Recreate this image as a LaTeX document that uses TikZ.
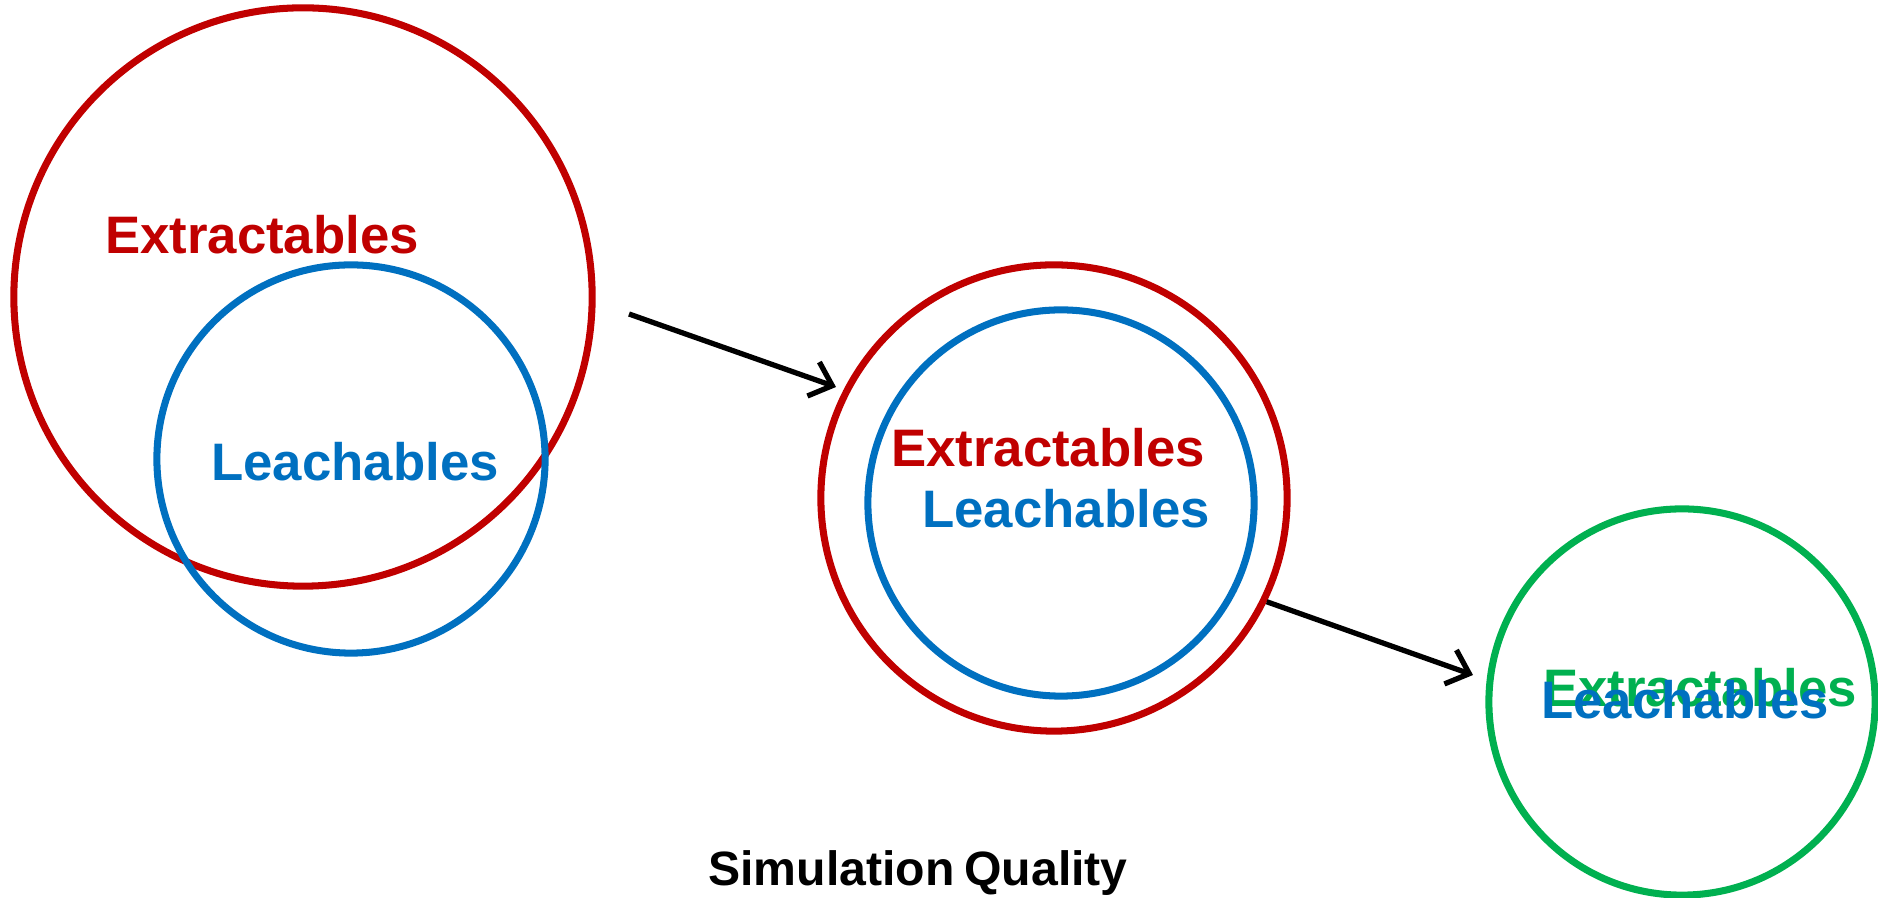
\documentclass[tikz,border=0pt]{standalone}
\usepackage{fontspec}
\setmainfont{Liberation Sans}
\usetikzlibrary{arrows.meta,positioning}
\definecolor{extred}{HTML}{C00000}
\definecolor{leachblue}{HTML}{0070C0}
\definecolor{simgreen}{HTML}{00B050}
\tikzset{
  ring/.style={circle, draw=#1, line width=2pt, inner sep=0pt},
  tag/.style={font=\bfseries\fontsize{15}{18}\selectfont, text=#1, inner sep=0pt},
  flow/.style={-{Straight Barb[length=2mm,width=3.6mm]}, line width=1.5pt, draw=black}
}
\begin{document}
\begin{tikzpicture}[x=0.01cm,y=-0.01cm]
  \useasboundingbox (0,0) rectangle (1878,898);
  % stage 1: leachables only partly inside extractables
  \node[ring=extred, minimum size=5.78cm] (outer1) at (303,297) {};
  \node[ring=leachblue, minimum size=3.88cm] (inner1) at (351,459) {};
  \node[tag=extred] (ext1) at (262,235) {Extractables};
  \node[tag=leachblue] (leach1) at (355,462) {Leachables};

  % stage 2: leachables inside extractables
  \node[ring=extred, minimum size=4.66cm] (outer2) at (1054,498) {};
  \node[ring=leachblue, minimum size=3.86cm] (inner2) at (1061,503) {};
  \node[tag=extred] (ext2) at (1048,448) {Extractables};
  \node[tag=leachblue] (leach2) at (1066,509) {Leachables};

  % stage 3: both the same
  \node[ring=simgreen, minimum size=3.86cm] (outer3) at (1682,702) {};
  \node[tag=simgreen] (ext3) at (1700,688) {Extractables};
  \node[tag=leachblue] (leach3) at (1685,700) {Leachables};

  % arrows
  \coordinate (go1) at (629,314);
  \coordinate (to1) at (836,387);
  \coordinate (to2) at (1473,675);
  \draw[flow] (go1) -- (to1);
  \draw[flow] (outer2.-26.5) -- (to2);

  \node[font=\bfseries\fontsize{13.7}{17}\selectfont, inner sep=0pt] (simq) at (918,873) {Simulation\hspace{0.2em}Quality};
\end{tikzpicture}
\end{document}
